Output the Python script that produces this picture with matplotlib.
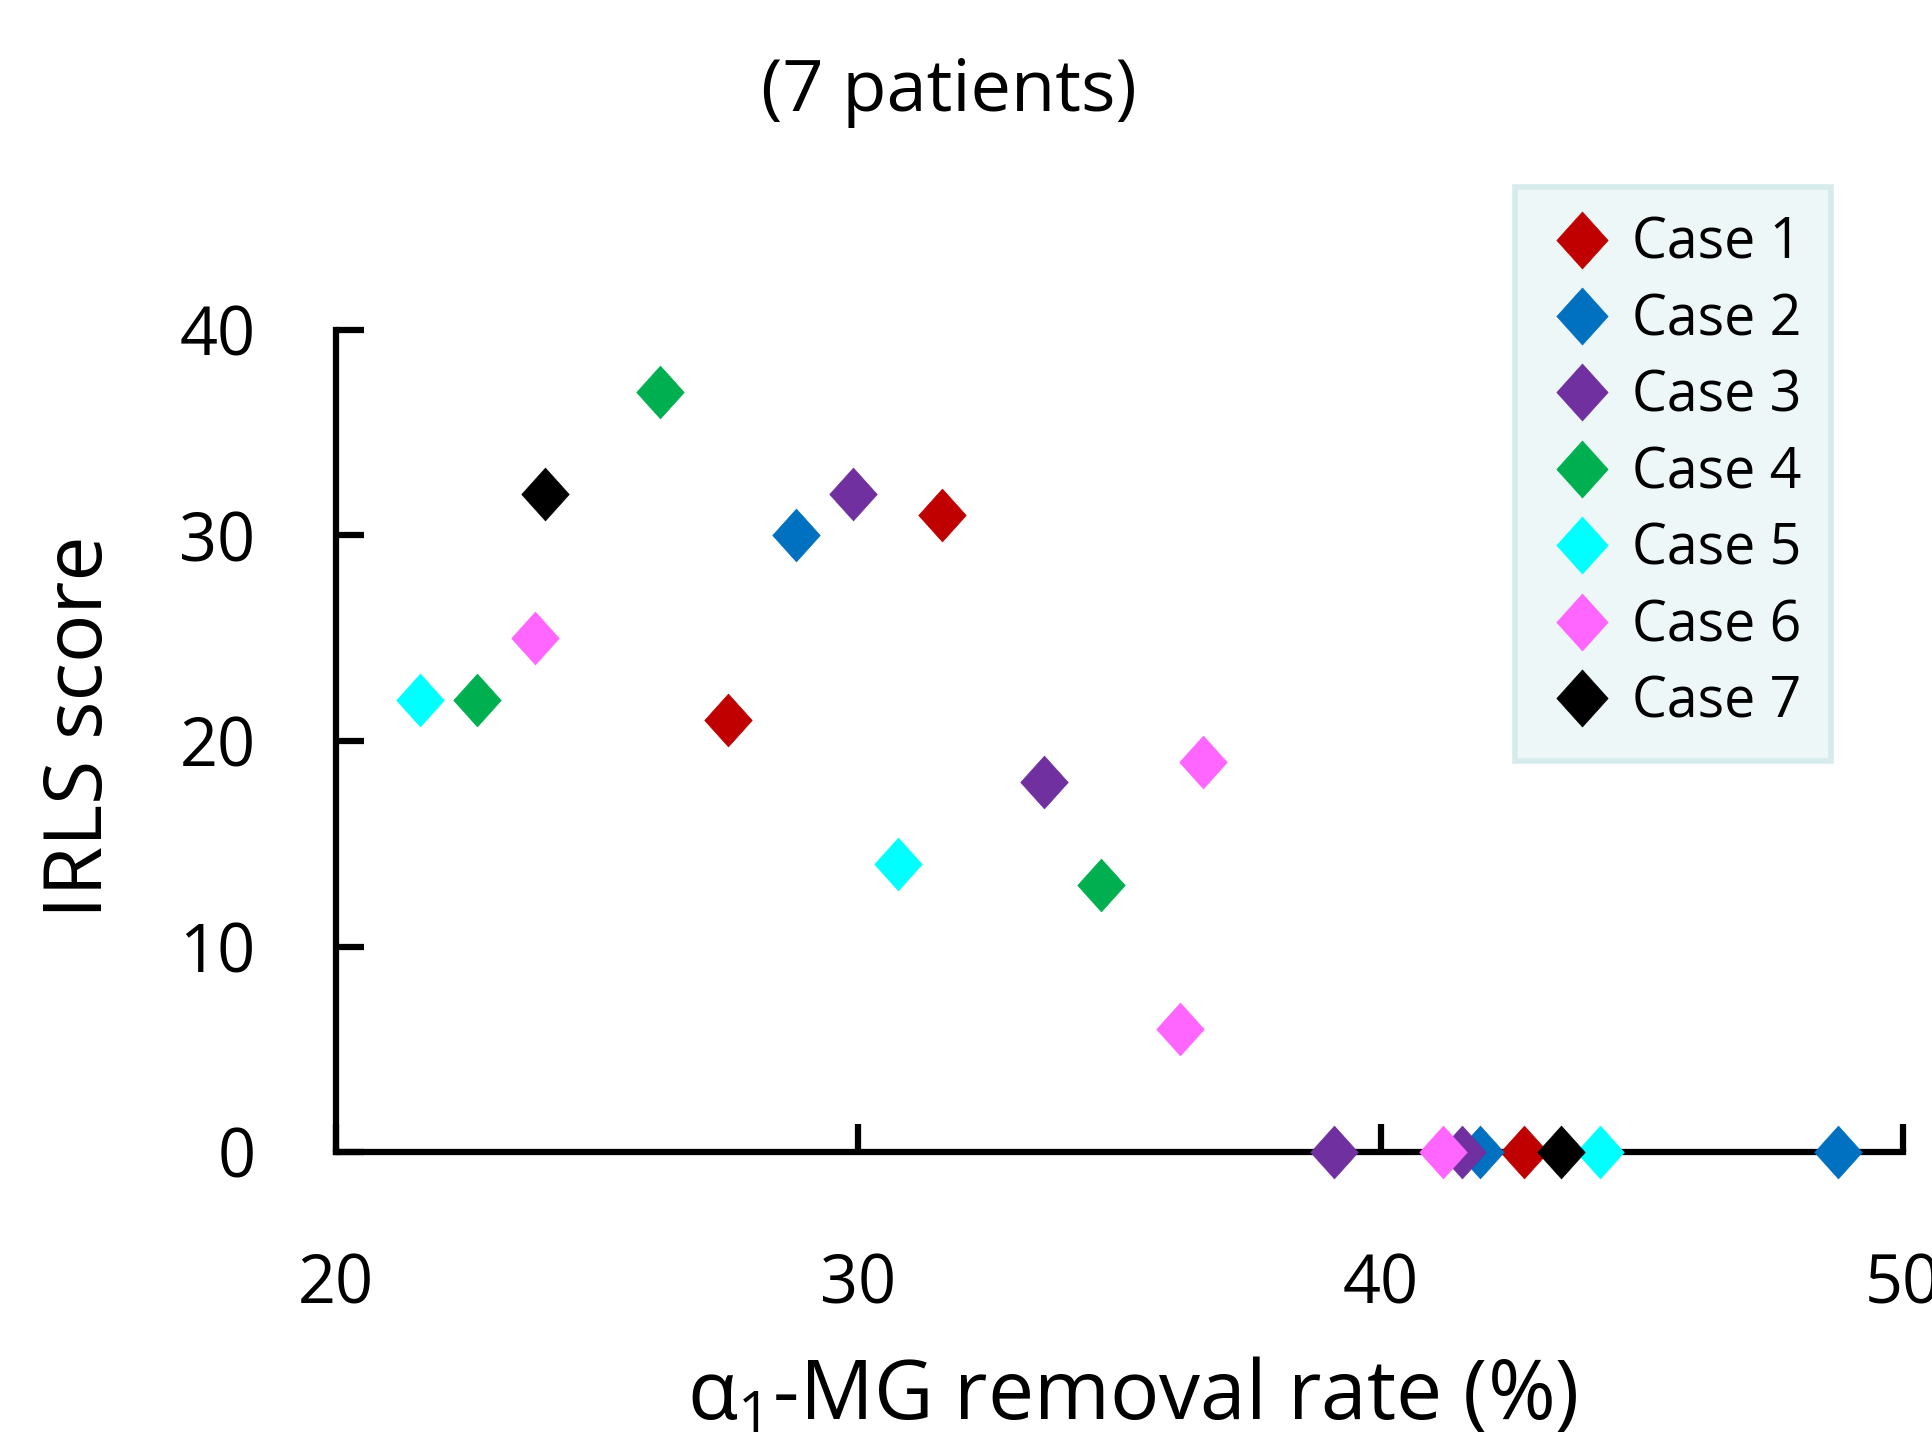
import matplotlib
matplotlib.use("Agg")
import matplotlib.pyplot as plt
from matplotlib.path import Path

plt.rcParams['font.family'] = ['Open Sans', 'DejaVu Sans']
plt.rcParams['mathtext.fontset'] = 'custom'
plt.rcParams['mathtext.rm'] = 'Open Sans'
plt.rcParams['mathtext.it'] = 'Open Sans:italic'

# data
case_names = ['Case 1', 'Case 2', 'Case 3', 'Case 4', 'Case 5', 'Case 6', 'Case 7']
case_colors = ['#C00000', '#0070C0', '#7030A0', '#00B050', '#00FFFF', '#FF66FF', '#000000']

removal_rate = [
    [31.6, 27.5, 42.75],        # Case 1
    [28.8, 41.9, 48.75],        # Case 2
    [29.9, 33.55, 39.1, 41.55], # Case 3
    [26.2, 22.7, 34.65],        # Case 4
    [21.6, 30.75, 44.2],        # Case 5
    [23.8, 36.6, 36.15, 41.2],  # Case 6
    [24.0, 43.45],              # Case 7
]
irls_score = [
    [31, 21, 0],
    [30, 0, 0],
    [32, 18, 0, 0],
    [37, 22, 13],
    [22, 14, 0],
    [25, 19, 6, 0],
    [32, 0],
]

x_ticks = [20, 30, 40, 50]
y_ticks = [0, 10, 20, 30, 40]

# slightly tall diamond like the original
diamond = Path([(0, 1), (0.9, 0), (0, -1), (-0.9, 0), (0, 1)],
               [Path.MOVETO, Path.LINETO, Path.LINETO, Path.LINETO, Path.CLOSEPOLY])

fig = plt.figure(figsize=(19.32, 14.39), dpi=100)
ax = fig.add_axes([0.174, 0.1994, 0.811, 0.5713])

for name, col, xs, ys in zip(case_names, case_colors, removal_rate, irls_score):
    ax.plot(xs, ys, linestyle='none', marker=diamond, markersize=38,
            color=col, markeredgecolor=col, markeredgewidth=0.5,
            label=name, clip_on=False, zorder=3)

ax.set_xlim(20, 50)
ax.set_ylim(0, 40)
ax.set_xticks(x_ticks)
ax.set_yticks(y_ticks)

for side in ['top', 'right']:
    ax.spines[side].set_visible(False)
for side in ['left', 'bottom']:
    ax.spines[side].set_linewidth(4.5)
    ax.spines[side].set_color('black')
    ax.spines[side].set_capstyle('projecting')

ax.tick_params(axis='both', direction='in', length=20, width=4.5, labelsize=48)
ax.tick_params(axis='y', pad=58)
ax.tick_params(axis='x', pad=72)

ax.set_ylabel('IRLS score', fontsize=58, va='center')
ax.yaxis.set_label_coords(-0.163, 0.517)
ax.set_xlabel(r'α$_{1}$-MG removal rate (%)', fontsize=59, va='center')
ax.xaxis.set_label_coords(0.508, -0.30)

fig.text(0.491, 0.936, '(7 patients)', fontsize=52, ha='center', va='center')

leg = ax.legend(loc='upper left', bbox_to_anchor=(0.784, 0.870),
                bbox_transform=fig.transFigure, fontsize=40, fancybox=False,
                frameon=True, handlelength=1.4, handletextpad=0.2,
                labelspacing=0.35, borderpad=0.52, borderaxespad=0,
                markerscale=1.08)
leg.get_frame().set_facecolor('#EEF7F7')
leg.get_frame().set_edgecolor('#D6EBEB')
leg.get_frame().set_linewidth(4)
leg.get_frame().set_alpha(1)

fig.savefig('out.png', dpi=100)
